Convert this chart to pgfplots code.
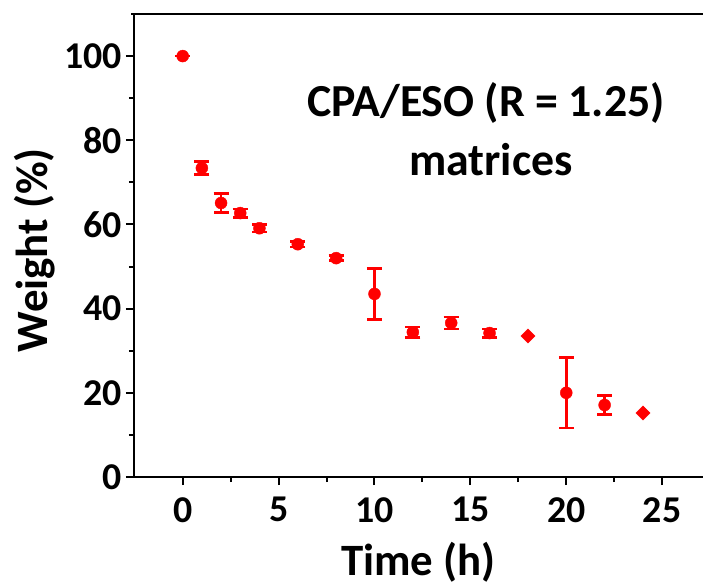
\documentclass[border=0pt]{standalone}
\usepackage{pgfplots}
\pgfplotsset{compat=1.18}
\usepackage{fontspec}
\setmainfont{Carlito}
\begin{document}
\begin{tikzpicture}
\begin{axis}[
  scale only axis,
  width=569bp, height=463bp,
  xmin=-2.54, xmax=27.13,
  ymin=0, ymax=110,
  axis x line*=bottom, axis y line*=left,
  axis line style={line width=2bp, -},
  xtick={0,5,10,15,20,25},
  ytick={0,20,40,60,80,100},
  minor x tick num=1, minor y tick num=1,
  tick align=outside,
  major tick length=8bp, minor tick length=5bp,
  every tick/.style={black, line width=2bp},
  tick label style={font=\fontsize{38}{42}\selectfont\bfseries, inner sep=2bp},
  /pgf/number format/assume math mode=true,
  xticklabel style={yshift=-10bp},
  yticklabel style={xshift=-2bp},
  xlabel={Time (h)},
  ylabel={Weight (\%)},
  label style={font=\fontsize{45}{50}\selectfont\bfseries},
  xlabel style={at={(axis description cs:0.5,0)}, anchor=center, yshift=-85bp},
  ylabel style={at={(axis description cs:-0.174,0.49)}, anchor=center},
  clip=false,
]
\draw[line width=2bp] (rel axis cs:-0.005,1) -- (rel axis cs:1,1);
\addplot[only marks, red, mark=*, mark size=6bp,
  error bars/.cd, y dir=both, y explicit,
  error bar style={line width=2.6bp, red},
  error mark options={rotate=90, mark size=7.5bp, line width=2.6bp, red}]
  coordinates {
  (0,100) +- (0,0)
  (1,73.4) +- (0,1.5)
  (2,65.1) +- (0,2.3)
  (3,62.7) +- (0,1.0)
  (4,59.1) +- (0,0.9)
  (6,55.3) +- (0,0.7)
  (8,52.0) +- (0,0.6)
  (10,43.5) +- (0,6.1)
  (12,34.4) +- (0,1.2)
  (14,36.6) +- (0,1.4)
  (16,34.2) +- (0,1.0)
  (20,20.0) +- (0,8.4)
  (22,17.1) +- (0,2.3)
  };
\addplot[only marks, red, mark=square*, mark options={rotate=45}, mark size=5bp]
  coordinates {(18,33.5) (24,15.2)};
\node[font=\fontsize{46}{50}\selectfont\bfseries] at (axis cs:15.81,88.8) {CPA/ESO (R = 1.25)};
\node[font=\fontsize{46}{50}\selectfont\bfseries] at (axis cs:16.07,75.3) {matrices};
\end{axis}
\pgfresetboundingbox
\path[use as bounding box] (-134bp,-109bp) rectangle (569bp,477bp);
\end{tikzpicture}
\end{document}
